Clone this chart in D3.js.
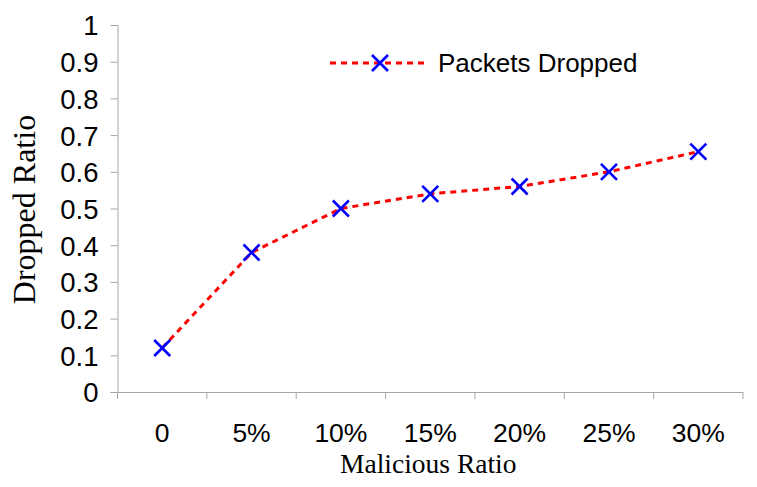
<!DOCTYPE html>
<html><head><meta charset="utf-8">
<script src="https://cdn.jsdelivr.net/npm/d3@7"></script>
<style>body{margin:0;background:#fff}</style>
</head><body>
<svg id="c" width="757" height="487"></svg>
<script>
const categories = ["0","5%","10%","15%","20%","25%","30%"];
const dropped = [0.12, 0.38, 0.50, 0.54, 0.56, 0.60, 0.655];
const yTicks = [0,0.1,0.2,0.3,0.4,0.5,0.6,0.7,0.8,0.9,1];
const seriesName = "Packets Dropped";
const xTitle = "Malicious Ratio";
const yTitle = "Dropped Ratio";

const svg = d3.select("#c");
const L = 117.5, R = 743, T = 25, B = 392;
const x = d3.scaleBand().domain(categories).range([L, R]);
const y = d3.scaleLinear().domain([0,1]).range([B, T]);
const axisColor = "#a6a6a6";
const sans = "Liberation Sans, Arial, sans-serif";
const serif = "Liberation Serif, Times New Roman, serif";

// y axis
const ya = svg.append("g").attr("transform",`translate(${L},0)`)
  .call(d3.axisLeft(y).tickValues(yTicks).tickSize(7).tickPadding(12)
    .tickFormat(d => d3.format("")(+d.toFixed(1))));
ya.select(".domain").attr("stroke", axisColor);
ya.selectAll(".tick line").attr("stroke", axisColor);
ya.selectAll(".tick text").attr("font-family",sans)
  .attr("font-size", 27.5).attr("fill","#000").attr("dy","0.36em");

// x axis
const xa = svg.append("g").attr("transform",`translate(0,${B})`)
  .call(d3.axisBottom(x).tickSize(0).tickPadding(31));
xa.select(".domain").attr("stroke", axisColor).attr("d", `M${L},0.5H${R}`);
xa.selectAll(".tick text").attr("font-family",sans)
  .attr("font-size", 26.5).attr("fill","#000");
// category separators
const bounds = categories.map(c => x(c)).concat([R]);
xa.selectAll("line.sep").data(bounds).enter().append("line").attr("class","sep")
  .attr("x1", d=>d).attr("x2", d=>d).attr("y1",0).attr("y2",7).attr("stroke",axisColor);

// line
const line = d3.line().x((d,i)=>x(categories[i])+x.bandwidth()/2).y(d=>y(d));
svg.append("path").datum(dropped).attr("d", line).attr("fill","none")
  .attr("stroke","#ff0000").attr("stroke-width",3).attr("stroke-dasharray","6,5");

function cross(g, cx, cy){
  const s = 8;
  g.append("path").attr("d",`M${cx-s},${cy-s}L${cx+s},${cy+s}M${cx-s},${cy+s}L${cx+s},${cy-s}`)
   .attr("stroke","#0000ff").attr("stroke-width",2.6).attr("fill","none");
}
const mg = svg.append("g");
dropped.forEach((d,i)=>cross(mg, x(categories[i])+x.bandwidth()/2, y(d)));

// legend
const lg = svg.append("g");
lg.append("line").attr("x1",330).attr("x2",425).attr("y1",63).attr("y2",63)
  .attr("stroke","#ff0000").attr("stroke-width",3).attr("stroke-dasharray","6,5");
cross(lg, 380, 63);
lg.append("text").attr("x",438).attr("y",72).text(seriesName)
  .attr("font-family",sans).attr("font-size",26);

// titles
svg.append("text").attr("x",(L+R)/2-2).attr("y",473).attr("text-anchor","middle")
  .attr("font-family",serif).attr("font-size",27.5).text(xTitle);
svg.append("text").attr("transform",`translate(35,${(T+B)/2+1}) rotate(-90)`).attr("text-anchor","middle")
  .attr("font-family",serif).attr("font-size",32).text(yTitle);
</script>
</body></html>
